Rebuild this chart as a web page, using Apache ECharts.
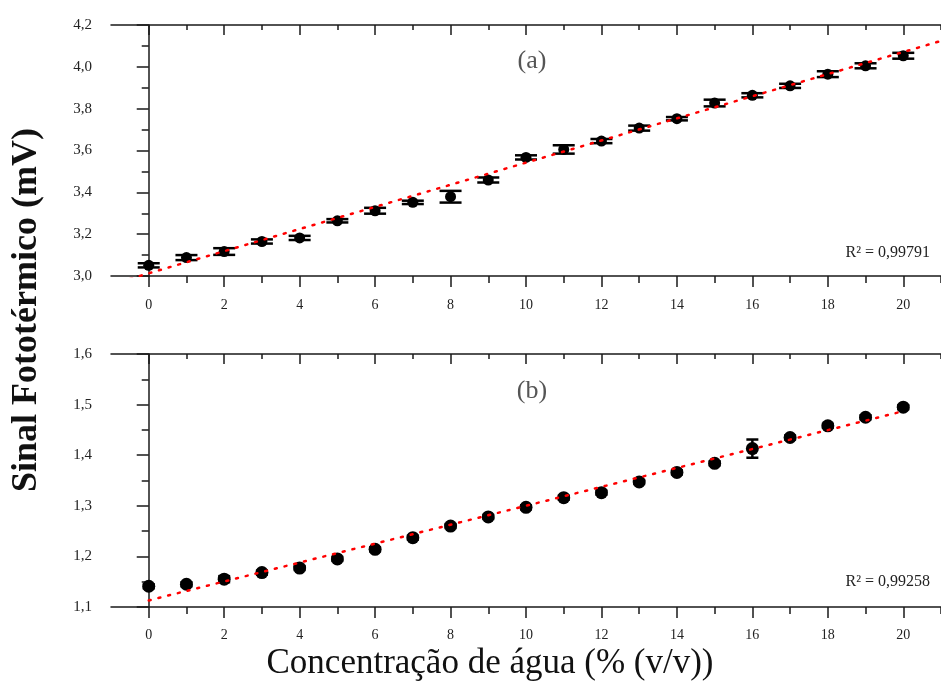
<!DOCTYPE html>
<html>
<head>
<meta charset="utf-8">
<script src="https://cdn.jsdelivr.net/npm/echarts@6/dist/echarts.min.js"></script>
<style>
  html, body { margin: 0; padding: 0; background: #fff; }
  #chart { width: 941px; height: 684px; }
</style>
</head>
<body>
<div id="chart"></div>
<script>
// Water concentration (% v/v)
const concentracao = [0, 1, 2, 3, 4, 5, 6, 7, 8, 9, 10, 11, 12, 13, 14, 15, 16, 17, 18, 19, 20];

// Panel (a): photothermal signal (mV) and its error
const sinalA = [3.051, 3.088, 3.117, 3.165, 3.182, 3.264, 3.312, 3.352, 3.379, 3.459, 3.567,
                3.605, 3.645, 3.707, 3.752, 3.827, 3.864, 3.909, 3.965, 4.005, 4.053];
const erroA = [0.010, 0.012, 0.016, 0.010, 0.010, 0.008, 0.014, 0.008, 0.028, 0.012, 0.010,
               0.020, 0.010, 0.012, 0.008, 0.016, 0.010, 0.010, 0.014, 0.012, 0.014];

// Panel (b): photothermal signal (mV) and its error
const sinalB = [1.141, 1.145, 1.155, 1.168, 1.177, 1.195, 1.214, 1.237, 1.260, 1.278, 1.297,
                1.316, 1.326, 1.347, 1.366, 1.384, 1.413, 1.435, 1.458, 1.475, 1.495];
const erroB = [0.004, 0.004, 0.006, 0.004, 0.004, 0.004, 0.004, 0.004, 0.004, 0.004, 0.004,
               0.004, 0.004, 0.004, 0.004, 0.004, 0.018, 0.004, 0.004, 0.004, 0.004];

// Linear fits (end points)
const ajusteAx = [-1, 21];
const ajusteAy = [2.960, 4.124];
const ajusteBx = [0, 20];
const ajusteBy = [1.113, 1.487];

// Tick positions and labels
const xTicks = [0, 2, 4, 6, 8, 10, 12, 14, 16, 18, 20];
const xMinorTicks = [1, 3, 5, 7, 9, 11, 13, 15, 17, 19, 21];
const r2A = 'R\u00B2 = 0,99791';
const r2B = 'R\u00B2 = 0,99258';
const yTitle = 'Sinal Fotot\u00E9rmico (mV)';
const xTitle = 'Concentra\u00E7\u00E3o de \u00E1gua (% (v/v))';

const SERIF = "'Liberation Serif', 'DejaVu Serif', serif";
const INK = '#1a1a1a';

const pairs = (xs, ys) => xs.map((x, i) => [x, ys[i]]);
const comma = v => v.toFixed(1).replace('.', ',');

function xAxes(grid, labelMargin) {
  const base = { gridIndex: grid, type: 'value', min: -1, max: 21, splitLine: { show: false } };
  return [
    Object.assign({}, base, {
      position: 'bottom',
      axisLine: { show: true, lineStyle: { color: INK, width: 1.5 } },
      axisTick: { show: true, inside: false, length: 11, customValues: xTicks, lineStyle: { color: INK, width: 1.5 } },
      axisLabel: { show: true, customValues: xTicks, margin: labelMargin, color: '#222', fontFamily: SERIF, fontSize: 14 }
    }),
    Object.assign({}, base, {
      position: 'bottom',
      axisLine: { show: false },
      axisTick: { show: true, inside: false, length: 7, customValues: xMinorTicks, lineStyle: { color: INK, width: 1.5 } },
      axisLabel: { show: false }
    }),
    Object.assign({}, base, {
      position: 'top',
      axisLine: { show: true, lineStyle: { color: INK, width: 1.5 } },
      axisTick: { show: true, inside: true, length: 10, customValues: xTicks, lineStyle: { color: INK, width: 1.5 } },
      axisLabel: { show: false }
    }),
    Object.assign({}, base, {
      position: 'top',
      axisLine: { show: false },
      axisTick: { show: true, inside: true, length: 5, customValues: xMinorTicks, lineStyle: { color: INK, width: 1.5 } },
      axisLabel: { show: false }
    })
  ];
}

function yAxis(grid, min, max, interval) {
  return {
    gridIndex: grid, type: 'value', min: min, max: max, interval: interval,
    splitLine: { show: false },
    axisLine: { show: true, lineStyle: { color: INK, width: 1.5 } },
    axisTick: { show: true, inside: false, length: 12, lineStyle: { color: INK, width: 1.5 } },
    minorTick: { show: true, splitNumber: 2, length: 7, lineStyle: { color: INK, width: 1.5 } },
    axisLabel: { margin: 19, color: '#222', fontFamily: SERIF, fontSize: 15, formatter: comma }
  };
}

function errorBars(xAxisIndex, yAxisIndex, ys, errs, capHalf) {
  return {
    type: 'custom',
    xAxisIndex: xAxisIndex, yAxisIndex: yAxisIndex,
    data: concentracao.map((x, i) => [x, ys[i] - errs[i], ys[i] + errs[i]]),
    z: 3,
    renderItem: function (params, api) {
      const lo = api.coord([api.value(0), api.value(1)]);
      const hi = api.coord([api.value(0), api.value(2)]);
      const st = { stroke: '#000', lineWidth: 2.5 };
      return {
        type: 'group',
        children: [
          { type: 'line', shape: { x1: lo[0], y1: lo[1], x2: hi[0], y2: hi[1] }, style: st },
          { type: 'line', shape: { x1: lo[0] - capHalf, y1: lo[1], x2: lo[0] + capHalf, y2: lo[1] }, style: st },
          { type: 'line', shape: { x1: hi[0] - capHalf, y1: hi[1], x2: hi[0] + capHalf, y2: hi[1] }, style: st }
        ]
      };
    }
  };
}

const chart = echarts.init(document.getElementById('chart'), null, { renderer: 'canvas' });

const option = {
  backgroundColor: '#fff',
  animation: false,
  grid: [
    { left: 111, top: 25, width: 843, height: 251 },
    { left: 111, top: 354, width: 843, height: 253 }
  ],
  xAxis: [].concat(xAxes(0, 22), xAxes(1, 21)),
  yAxis: [yAxis(0, 3.0, 4.2, 0.2), yAxis(1, 1.1, 1.6, 0.1)],
  series: [
    errorBars(0, 0, sinalA, erroA, 11),
    {
      type: 'scatter', xAxisIndex: 0, yAxisIndex: 0, z: 4,
      symbol: 'circle', symbolSize: 11,
      itemStyle: { color: '#000', opacity: 1 },
      data: pairs(concentracao, sinalA)
    },
    {
      type: 'line', xAxisIndex: 0, yAxisIndex: 0, z: 5,
      symbol: 'none', clip: true,
      lineStyle: { color: '#ff0000', width: 2.5, type: [2, 8], cap: 'round' },
      data: pairs(ajusteAx, ajusteAy)
    },
    errorBars(4, 1, sinalB, erroB, 6),
    {
      type: 'scatter', xAxisIndex: 4, yAxisIndex: 1, z: 4,
      symbol: 'circle', symbolSize: 13,
      itemStyle: { color: '#000', opacity: 1 },
      data: pairs(concentracao, sinalB)
    },
    {
      type: 'line', xAxisIndex: 4, yAxisIndex: 1, z: 5,
      symbol: 'none', clip: true,
      lineStyle: { color: '#ff0000', width: 2.5, type: [2, 8], cap: 'round' },
      data: pairs(ajusteBx, ajusteBy)
    }
  ],
  graphic: [
    {
      type: 'text', x: 27, y: 310, rotation: Math.PI / 2,
      style: { text: yTitle, fill: '#111', font: "bold 36px 'Liberation Serif'", align: 'center', verticalAlign: 'middle' }
    },
    {
      type: 'text', x: 490, y: 664,
      style: { text: xTitle, fill: '#111', font: "35px 'Liberation Serif'", align: 'center', verticalAlign: 'middle' }
    },
    {
      type: 'text', x: 532, y: 61,
      style: { text: '(a)', fill: '#555', font: "26px 'Liberation Serif'", align: 'center', verticalAlign: 'middle' }
    },
    {
      type: 'text', x: 532, y: 391,
      style: { text: '(b)', fill: '#555', font: "26px 'Liberation Serif'", align: 'center', verticalAlign: 'middle' }
    },
    {
      type: 'text', x: 930, y: 253,
      style: { text: r2A, fill: '#222', font: "16px 'Liberation Serif'", align: 'right', verticalAlign: 'middle' }
    },
    {
      type: 'text', x: 930, y: 582,
      style: { text: r2B, fill: '#222', font: "16px 'Liberation Serif'", align: 'right', verticalAlign: 'middle' }
    }
  ]
};

chart.setOption(option);
</script>
</body>
</html>
